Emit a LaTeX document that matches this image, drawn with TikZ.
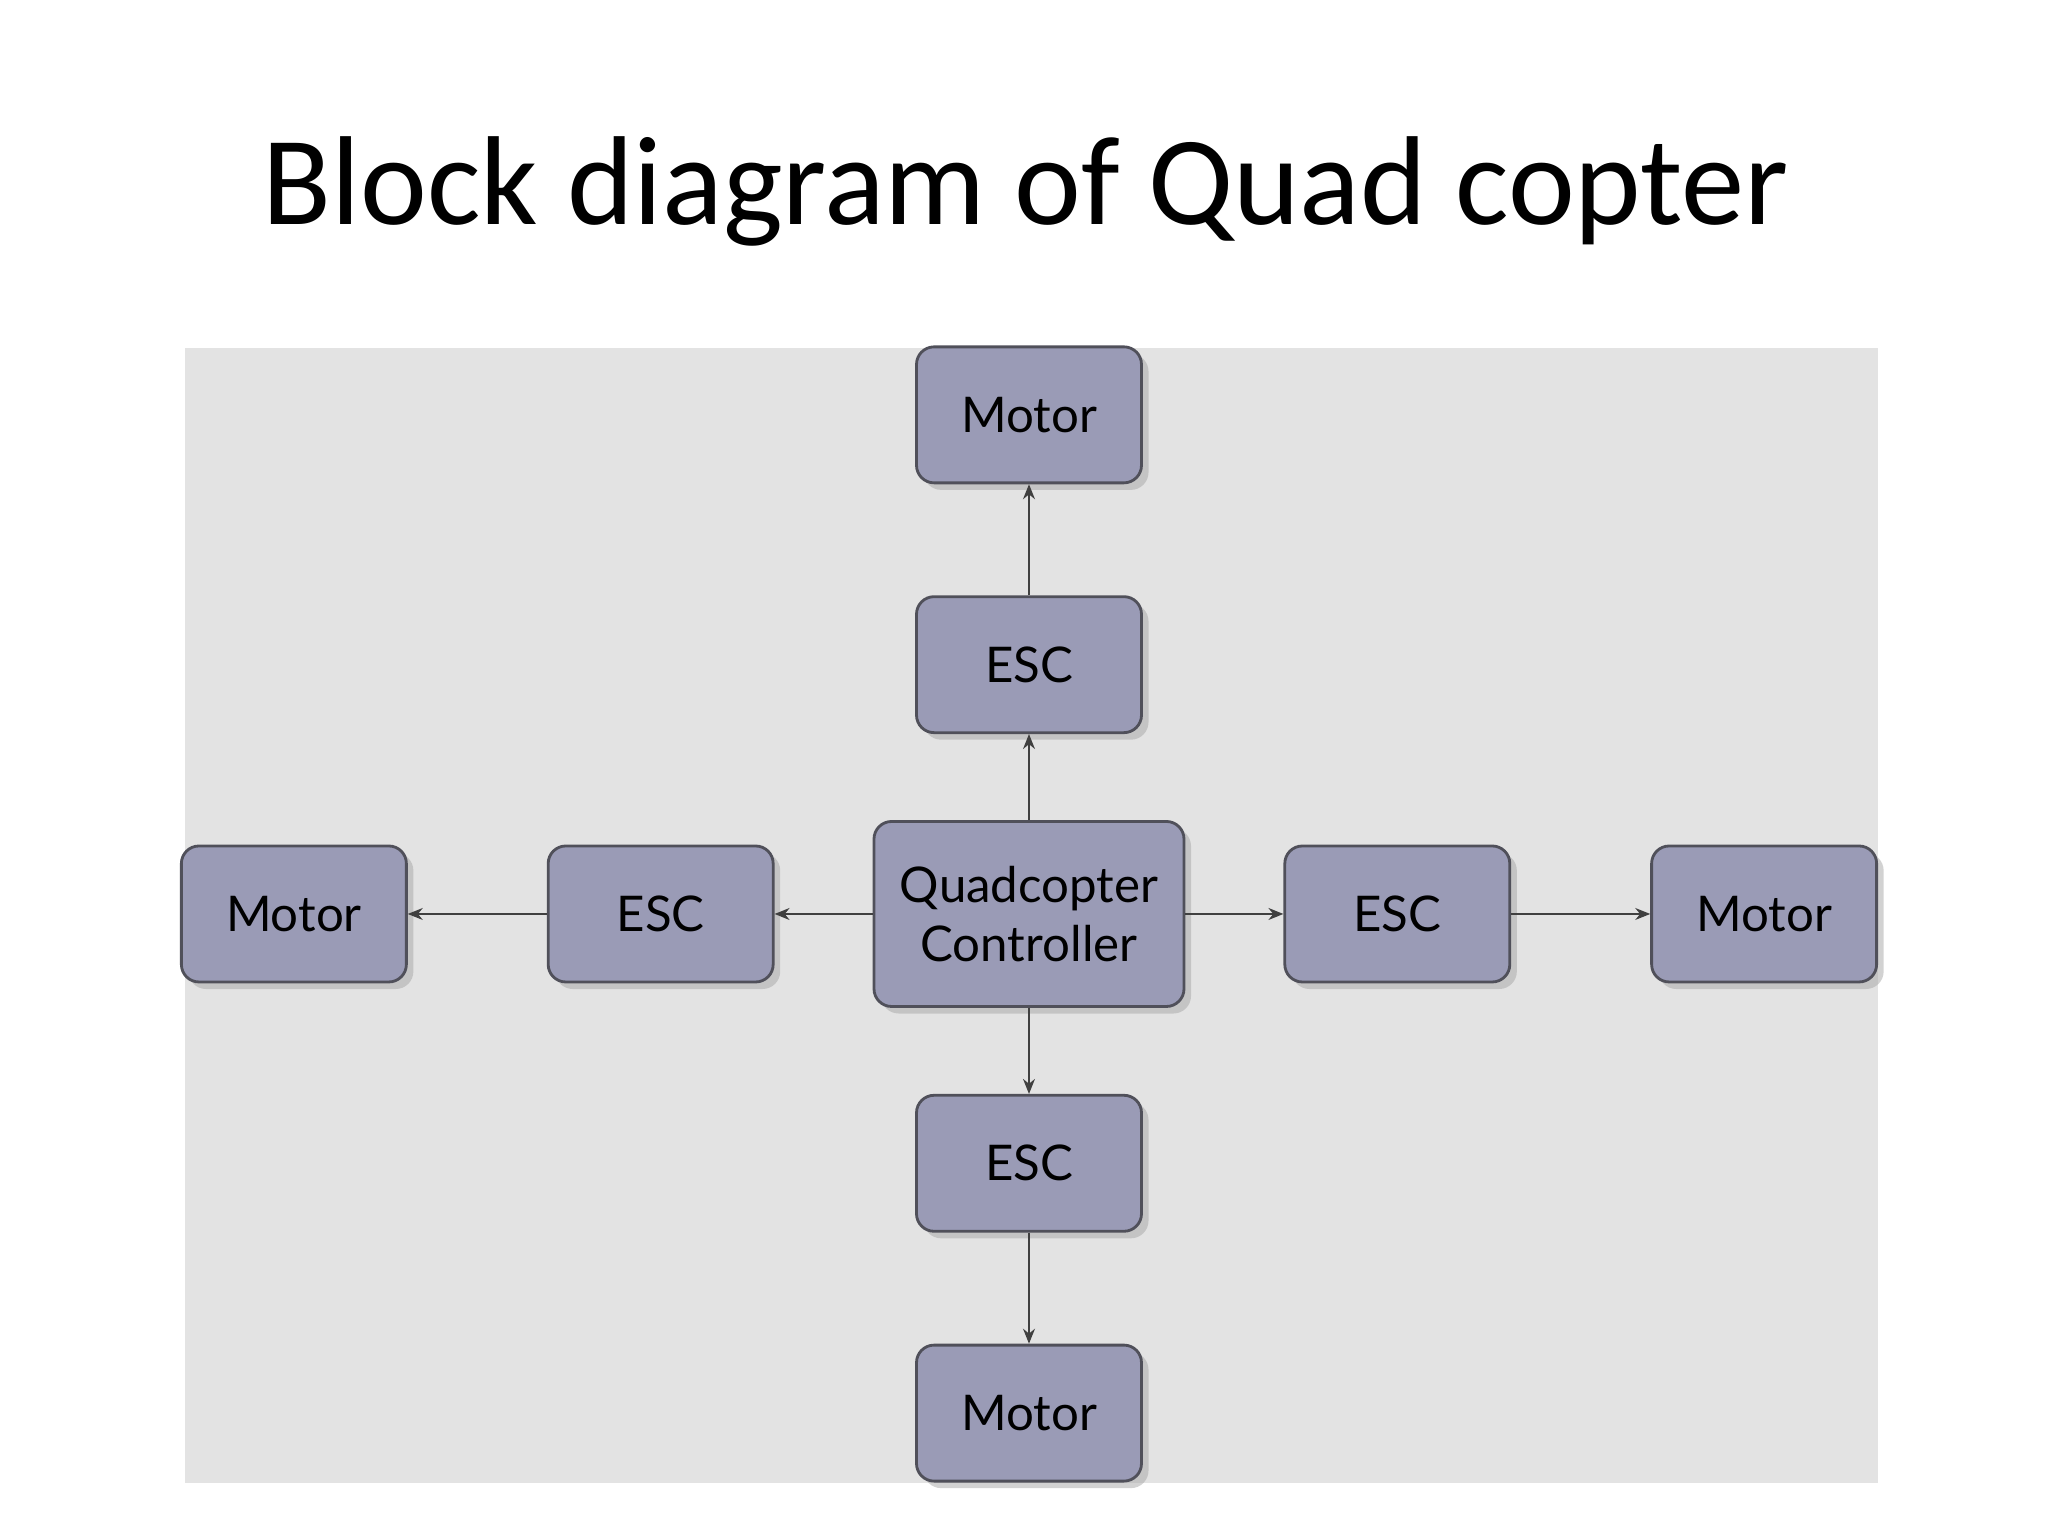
\documentclass[tikz,border=0pt]{standalone}
\usepackage{fontspec}
\setmainfont{Carlito}
\newfontfamily\boxfont{Lato}
\usetikzlibrary{arrows.meta, positioning, shadows}
\definecolor{panelgray}{RGB}{227, 227, 227}
\definecolor{blockviolet}{RGB}{154, 155, 182}
\definecolor{blockedge}{RGB}{80, 80, 90}

\begin{document}
\begin{tikzpicture}[
    box/.style={rectangle, draw=blockedge, thick, rounded corners=5pt, fill=blockviolet, minimum width=2.25cm, minimum height=1.36cm, align=center, font=\boxfont\fontsize{14}{17}\selectfont, drop shadow={shadow xshift=2pt, shadow yshift=-2pt, fill=gray!70}},
    arrow/.style={-{Stealth[length=1.5mm, width=1.2mm]}, draw=black!75}
]
    \useasboundingbox (0,0) rectangle (20.48,15.36);
    \fill[panelgray] (1.85,0.53) rectangle (18.78,11.88);

    % Title
    \node[font=\fontsize{36}{44}\selectfont] (title) at (10.26,13.45) {Block diagram of Quad copter};

    % Controller
    \node[box, minimum width=3.10cm, minimum height=1.85cm] (ctrl) at (10.29,6.22) {Quadcopter\\Controller};

    % ESCs
    \node[box, above=0.86cm of ctrl] (escN) {ESC};
    \node[box, below=0.86cm of ctrl] (escS) {ESC};
    \node[box, left=0.98cm of ctrl] (escW) {ESC};
    \node[box, right=0.98cm of ctrl] (escE) {ESC};

    % Motors
    \node[box, above=1.11cm of escN] (motN) {Motor};
    \node[box, below=1.11cm of escS] (motS) {Motor};
    \node[box, left=1.39cm of escW] (motW) {Motor};
    \node[box, right=1.39cm of escE] (motE) {Motor};

    % Arrows
    \draw[arrow] (ctrl) -- (escN);
    \draw[arrow] (ctrl) -- (escS);
    \draw[arrow] (ctrl) -- (escW);
    \draw[arrow] (ctrl) -- (escE);
    \draw[arrow] (escN) -- (motN);
    \draw[arrow] (escS) -- (motS);
    \draw[arrow] (escW) -- (motW);
    \draw[arrow] (escE) -- (motE);
\end{tikzpicture}
\end{document}
